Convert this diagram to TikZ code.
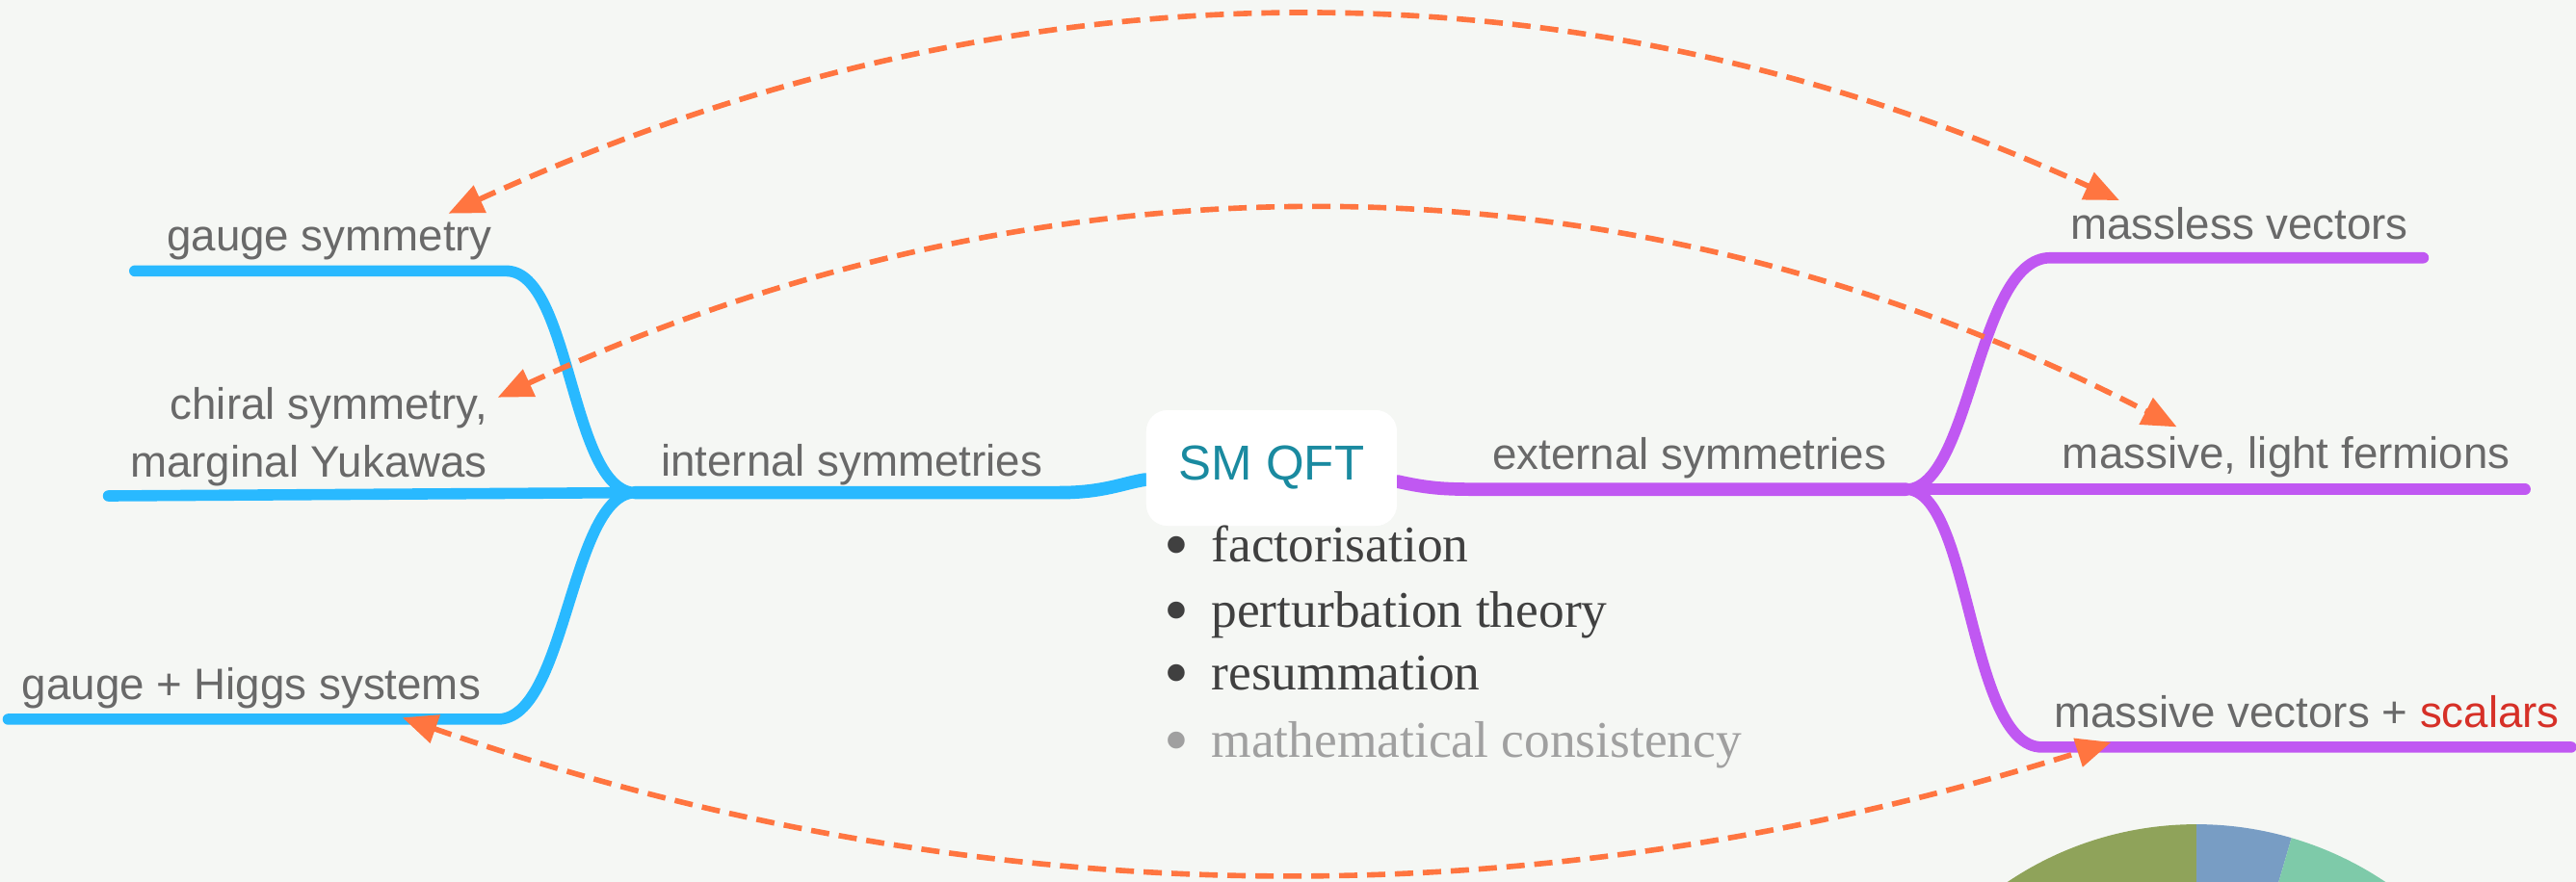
\documentclass[tikz,border=0pt]{standalone}
\usepackage{fontspec}
\setmainfont{Liberation Sans}
\newfontfamily\pucefont{Liberation Serif}
\usetikzlibrary{arrows.meta,positioning,calc}
\definecolor{colFond}{RGB}{245,247,244}
\definecolor{colBleu}{RGB}{41,185,255}
\definecolor{colViolet}{RGB}{192,88,242}
\definecolor{colFleche}{RGB}{255,117,64}
\definecolor{colTexte}{RGB}{105,105,105}
\definecolor{colTitre}{RGB}{26,138,160}
\definecolor{colPuce}{RGB}{64,64,64}
\definecolor{colPale}{RGB}{160,160,160}
\definecolor{colRouge}{RGB}{214,48,39}
\definecolor{colOlive}{RGB}{143,163,90}
\definecolor{colAzur}{RGB}{120,157,196}
\definecolor{colMenthe}{RGB}{126,202,169}
\newcommand{\pucemark}{\llap{\smash{\fontsize{21}{18}\selectfont\raisebox{-0.7mm}{\textbullet}}\hspace{2.3mm}}}

\begin{document}
\begin{tikzpicture}[x=0.17054mm, y=-0.17054mm,
    lbl/.style={font=\fontsize{13}{17}\selectfont, text=colTexte, inner sep=0pt},
    racine/.style={rectangle, rounded corners=2.2mm, fill=white, minimum width=26mm,
      minimum height=12mm, font=\fontsize{14.5}{17}\selectfont, text=colTitre},
    bleu/.style={line width=3.3pt, colBleu, line cap=round},
    violet/.style={line width=3.3pt, colViolet, line cap=round},
    tronc/.style={line width=3.9pt},
    puce/.style={font=\pucefont\fontsize{15.2}{18}\selectfont, text=colPuce,
      inner sep=0pt, anchor=base west},
    fleche/.style={{Triangle[length=3.6mm,width=3mm]}-{Triangle[length=3.6mm,width=3mm]},
      colFleche, line width=1.6pt, dash pattern=on 1.9mm off 1mm}]
    \useasboundingbox[fill=colFond] (0,0) rectangle (1568,537);
    \clip (0,0) rectangle (1568,537);
    % camembert en bas
    \coordinate (pc) at (1337,708);
    \fill[colOlive] (pc) -- ++(-90:206) arc[start angle=-90, end angle=-250, radius=206] -- cycle;
    \fill[colAzur] (pc) -- ++(-90:206) arc[start angle=-90, end angle=-73.7, radius=206] -- cycle;
    \fill[colMenthe] (pc) -- ++(-73.7:206) arc[start angle=-73.7, end angle=20, radius=206] -- cycle;
    % carte
    \node[racine] (qft) at (774,285) {SM QFT};
    \coordinate (jg) at (387,300);
    \coordinate (jd) at (1160,298);
    \coordinate (gsA) at (82,165);   \coordinate (gsB) at (308,165);
    \coordinate (chA) at (66,302);
    \coordinate (ghA) at (5,438);    \coordinate (ghB) at (303,438);
    \coordinate (mvA) at (1248,157); \coordinate (mvB) at (1475,157);
    \coordinate (mfB) at (1537,298);
    \coordinate (msA) at (1243,455); \coordinate (msB) at (1565,455);
    \draw[bleu, tronc] (jg) -- (645,300) .. controls (672,300) and (684,294) .. ([yshift=-1.2mm]qft.west);
    \draw[violet, tronc] ([yshift=-1.4mm]qft.east) .. controls (872,298) and (882,298) .. (905,298) -- (jd);
    \draw[bleu] (gsA) -- (gsB) .. controls +(40,0) and +(-40,0) .. (jg);
    \draw[bleu] (chA) -- (jg);
    \draw[bleu] (ghA) -- (ghB) .. controls +(42,0) and +(-40,0) .. (jg);
    \draw[violet] (jd) .. controls +(40,0) and +(-45,0) .. (mvA) -- (mvB);
    \draw[violet] (jd) -- (mfB);
    \draw[violet] (jd) .. controls +(40,0) and +(-45,0) .. (msA) -- (msB);
    \node[racine] at (qft) {SM QFT};
    \node[lbl, anchor=base east] (gs) at (300,153) {gauge symmetry};
    \node[lbl, anchor=east, align=right] (ch) at (297,266) {chiral symmetry,\\marginal Yukawas};
    \node[lbl, anchor=base east] (gh) at (293,426) {gauge + Higgs systems};
    \node[lbl, anchor=base west] (is) at (402,290) {internal symmetries};
    \node[lbl, anchor=base west] (es) at (908,286) {external symmetries};
    \node[lbl, anchor=base west] (mv) at (1260,146) {massless vectors};
    \node[lbl, anchor=base west] (mf) at (1255,285) {massive, light fermions};
    \node[lbl, anchor=base west] (ms) at (1250,443) {massive vectors + \textcolor{colRouge}{scalars}};
    % puces
    \node[puce] (p1) at (737,342) {\pucemark factorisation};
    \node[puce] (p2) at (737,382) {\pucemark perturbation theory};
    \node[puce] (p3) at (737,420) {\pucemark resummation};
    \node[puce, text=colPale] (p4) at (737,461) {\pucemark mathematical consistency};
    % fleches
    \coordinate (fGS) at (273,130); \coordinate (fMV) at (1290,122);
    \coordinate (fCH) at (303,242); \coordinate (fMF) at (1325,260);
    \coordinate (fGH) at (245,437); \coordinate (fMS) at (1285,452);
    \draw[fleche] (fGS) .. controls (620,-29) and (960,-29) .. (fMV);
    \draw[fleche] (fCH) .. controls (640,87) and (990,87) .. (fMF);
    \draw[fleche] (fGH) .. controls (600,561) and (940,561) .. (fMS);
  \end{tikzpicture}
\end{document}
